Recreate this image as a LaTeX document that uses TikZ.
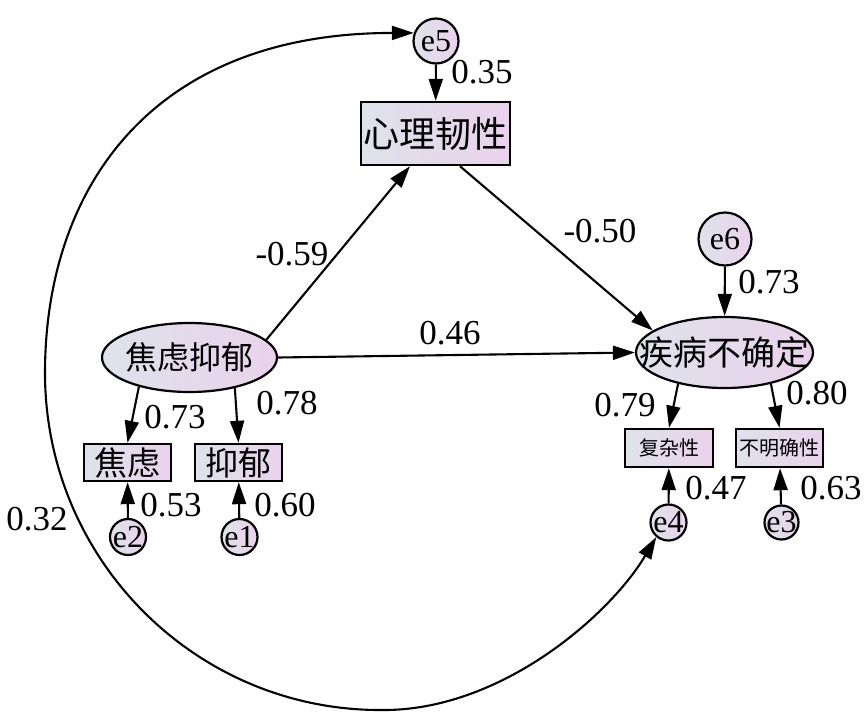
\documentclass[tikz,border=0pt]{standalone}
\usepackage{fontspec}
\setmainfont{Liberation Serif}
\newfontfamily\cjk{Noto Sans CJK SC}
\usetikzlibrary{arrows.meta,calc,shapes.geometric}
\definecolor{lc}{RGB}{222,226,235}
\definecolor{rc}{RGB}{234,210,236}
\begin{document}
\begin{tikzpicture}[x=1pt,y=-1pt,
  conn/.style={line width=2.1pt,-{Triangle[length=22pt,width=14pt]}},
  cov/.style={line width=2.1pt,{Triangle[length=22pt,width=14pt]}-{Triangle[length=22pt,width=14pt]}},
  obs/.style={rectangle,draw,line width=2.4pt,left color=lc,right color=rc,inner sep=0pt},
  latv/.style={ellipse,draw,line width=2.2pt,left color=lc,right color=rc,inner sep=0pt},
  err/.style={circle,draw,line width=2.2pt,left color=lc,right color=rc,inner sep=0pt,font=\fontsize{32}{32}\selectfont},
  num/.style={font=\fontsize{35}{35}\selectfont,inner sep=0pt}]
\useasboundingbox (0,0) rectangle (865,721);
\fill[white] (0,0) rectangle (865,721);

% nodes
\node[err,minimum size=45pt] (e5) at (436,41) {\makebox[0pt]{e5}};
\node[obs,minimum width=149pt,minimum height=63pt,font=\cjk\fontsize{36}{36}\selectfont] (res) at (435.5,133.5) {心理韧性};
\node[err,minimum size=53pt] (e6) at (725,239) {\makebox[0pt]{e6}};
\node[latv,minimum width=177pt,minimum height=71pt,font=\cjk\fontsize{34}{34}\selectfont] (dis) at (724.5,352.5) {\makebox[0pt]{疾病不确定}};
\node[latv,minimum width=175pt,minimum height=69pt,font=\cjk\fontsize{32}{32}\selectfont] (anx) at (189.5,357.5) {\makebox[0pt]{焦虑抑郁}};
\node[obs,minimum width=87pt,minimum height=37pt,font=\cjk\fontsize{33}{33}\selectfont] (jl) at (127.5,462.5) {\makebox[0pt]{焦虑}};
\node[obs,minimum width=87pt,minimum height=37pt,font=\cjk\fontsize{33}{33}\selectfont] (yy) at (238.5,462.5) {\makebox[0pt]{抑郁}};
\node[obs,minimum width=88pt,minimum height=38pt,font=\cjk\fontsize{20}{20}\selectfont] (fz) at (669,448) {复杂性};
\node[obs,minimum width=87pt,minimum height=38pt,font=\cjk\fontsize{20}{20}\selectfont] (bm) at (779.5,448) {不明确性};
\node[err,minimum size=36pt] (e2) at (128,537) {\makebox[0pt]{e2}};
\node[err,minimum size=36pt] (e1) at (239.5,537) {\makebox[0pt]{e1}};
\node[err,minimum size=36pt] (e4) at (668.5,522.5) {\makebox[0pt]{e4}};
\node[err,minimum size=34pt] (e3) at (781.5,522.5) {\makebox[0pt]{e3}};

% labels
\node[num] (l035) at (482,72) {0.35};
\node[num] (l059) at (292,254) {-0.59};
\node[num] (l050) at (600,231) {-0.50};
\node[num] (l046) at (450,333) {0.46};
\node[num] (l073b) at (769,282) {0.73};
\node[num] (l079) at (625,405) {0.79};
\node[num] (l080) at (817,393) {0.80};
\node[num] (l047) at (716,488) {0.47};
\node[num] (l063) at (831,488) {0.63};
\node[num] (l073a) at (175,417) {0.73};
\node[num] (l078) at (287,403) {0.78};
\node[num] (l053) at (171,505) {0.53};
\node[num] (l060) at (285,505) {0.60};
\node[num] (l032) at (37,519) {0.32};

% coordinates of the covariance curve
\coordinate (cL) at (45,373);
\coordinate (cB) at (380,710);

% connectors
\draw[conn] (e5) -- (res);
\draw[conn] (anx.13) -- ($(res.south)+(-25.5,0)$);
\draw[conn] ($(res.south)+(24.5,0)$) -- (dis.163);
\draw[conn] (anx.east) -- (dis.west);
\draw[conn] (e6) -- (dis);
\draw[conn] (anx.210) -- (jl.north);
\draw[conn] (anx.326) -- (yy.north);
\draw[conn] (dis.214) -- (fz.north);
\draw[conn] (dis.326) -- (bm.north);
\draw[conn] (e2) -- (jl);
\draw[conn] (e1) -- (yy);
\draw[conn] (e4) -- (fz);
\draw[conn] (e3) -- (bm);
\draw[cov] (e5.160) .. controls (150,33) and (45,190) .. (cL)
  .. controls (45,559) and (195,710) .. (cB)
  .. controls (500,712) and (610,615) .. (e4.230);
\end{tikzpicture}
\end{document}
